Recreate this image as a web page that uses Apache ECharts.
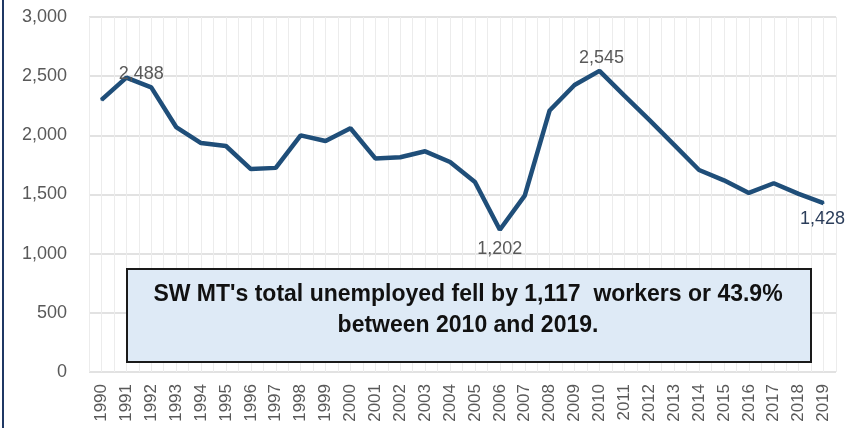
<!DOCTYPE html>
<html>
<head>
<meta charset="utf-8">
<script src="https://cdn.jsdelivr.net/npm/echarts@6/dist/echarts.min.js"></script>
<style>
  html, body { margin: 0; padding: 0; background: #fff; }
  #chart { width: 856px; height: 428px; }
</style>
</head>
<body>
<div id="chart"></div>
<script>
// years on the x axis
const years = ['1990', '1991', '1992', '1993', '1994', '1995', '1996', '1997', '1998', '1999',
  '2000', '2001', '2002', '2003', '2004', '2005', '2006', '2007', '2008', '2009',
  '2010', '2011', '2012', '2013', '2014', '2015', '2016', '2017', '2018', '2019']
// total unemployed, SW MT
const unemployed = [2300, 2488, 2405, 2070, 1935, 1910, 1715, 1725, 2000, 1952,
  2060, 1805, 1815, 1865, 1775, 1605, 1202, 1490, 2210, 2425,
  2545, 2335, 2130, 1920, 1707, 1620, 1513, 1595, 1505, 1428]
// which points get a value label
const labelled = [1, 16, 20, 29]
const noteLines = ["SW MT's total unemployed fell by 1,117  workers or 43.9%", 'between 2010 and 2019.']

const chart = echarts.init(document.getElementById('chart'))

const fmt = v => v.toLocaleString('en-US')

// label placement for the marked points
function labelFor(i) {
  if (i === 1) return { show: true, position: 'top', distance: 0, offset: [15, 6], color: '#595959' }
  if (i === 20) return { show: true, position: 'top', distance: 3, offset: [2, 0], color: '#595959' }
  if (i === 16) return { show: true, position: 'bottom', distance: 9, color: '#595959' }
  if (i === 29) return { show: true, position: 'bottom', distance: 6, offset: [-1, 0], color: '#2b3d5a' }
  return { show: false }
}

const seriesData = unemployed.map((v, i) => ({
  value: v,
  label: labelled.indexOf(i) >= 0 ? labelFor(i) : { show: false }
}))

const option = {
  animation: false,
  textStyle: { fontFamily: 'Liberation Sans' },
  grid: { left: 89, right: 20, top: 17, bottom: 56 },
  xAxis: [
    {
      type: 'category',
      data: years,
      boundaryGap: true,
      axisLine: { show: false },
      axisTick: { show: false },
      splitLine: { show: false },
      axisLabel: {
        interval: 0,
        rotate: 90,
        margin: 12,
        fontSize: 17,
        color: '#595959'
      }
    },
    {
      // half-category vertical grid
      type: 'value',
      min: 0,
      max: years.length * 2,
      interval: 1,
      position: 'bottom',
      axisLine: { show: false },
      axisTick: { show: false },
      axisLabel: { show: false },
      splitLine: { show: true, lineStyle: { color: '#ececec', width: 1 } }
    }
  ],
  yAxis: {
    type: 'value',
    min: 0,
    max: 3000,
    interval: 500,
    axisLine: { show: false },
    axisTick: { show: false },
    axisLabel: {
      margin: 22,
      fontSize: 18,
      color: '#595959',
      formatter: v => fmt(v)
    },
    splitLine: { lineStyle: { color: '#d9d9d9', width: 1.5 } }
  },
  series: [
    {
      type: 'line',
      xAxisIndex: 0,
      data: seriesData,
      symbol: 'circle',
      symbolSize: 2,
      showSymbol: true,
      itemStyle: { color: '#1f4e79' },
      lineStyle: { color: '#1f4e79', width: 4.5 },
      label: {
        fontSize: 18,
        formatter: p => fmt(p.value)
      },
      z: 5
    }
  ],
  graphic: [
    {
      type: 'rect',
      left: 2,
      top: 0,
      shape: { width: 2, height: 428 },
      style: { fill: '#1f3864' }
    },
    {
      type: 'rect',
      left: 126,
      top: 268,
      z: 10,
      shape: { width: 684, height: 93 },
      style: { fill: '#deeaf6', stroke: '#1a1a1a', lineWidth: 2 }
    },
    {
      type: 'text',
      x: 468,
      y: 279,
      z: 11,
      style: {
        text: noteLines.join('\n'),
        align: 'center',
        font: 'bold 23px "Liberation Sans"',
        lineHeight: 31,
        fill: '#111'
      }
    }
  ]
}

chart.setOption(option)
</script>
</body>
</html>
